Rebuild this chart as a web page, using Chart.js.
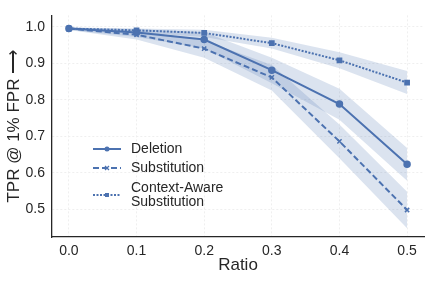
<!DOCTYPE html>
<html>
<head>
<meta charset="utf-8">
<script src="https://cdn.jsdelivr.net/npm/chart.js@4/dist/chart.umd.min.js"></script>
<style>
  html, body { margin: 0; padding: 0; background: #fff; }
  #wrap { width: 430px; height: 281px; position: relative; }
</style>
</head>
<body>
<div id="wrap"><canvas id="TPR"></canvas></div>
<script>
var ratios = [0.0, 0.1, 0.2, 0.3, 0.4, 0.5];
var xticks = [0.0, 0.1, 0.2, 0.3, 0.4, 0.5];
var yticks = [0.5, 0.6, 0.7, 0.8, 0.9, 1.0];

var deletion = [0.995, 0.984, 0.965, 0.881, 0.788, 0.623];
var delLow = [0.991, 0.972, 0.940, 0.845, 0.745, 0.578];
var delHigh = [0.998, 0.994, 0.985, 0.915, 0.830, 0.668];

var substitution = [0.995, 0.978, 0.940, 0.861, 0.686, 0.498];
var subLow = [0.991, 0.965, 0.915, 0.825, 0.640, 0.448];
var subHigh = [0.998, 0.990, 0.962, 0.895, 0.732, 0.548];

var contextAware = [0.995, 0.990, 0.983, 0.955, 0.908, 0.847];
var casLow = [0.992, 0.984, 0.972, 0.940, 0.886, 0.816];
var casHigh = [0.998, 0.995, 0.992, 0.970, 0.930, 0.879];

var labels = ["Deletion", "Substitution", ["Context-Aware", "Substitution"]];

var blue = "#4C72B0";
var band = "rgba(76,114,176,0.2)";
var font = "'Liberation Sans', Arial, sans-serif";

function pts(v) {
    var out = [];
    for (i = 0; i < ratios.length; i++) {
        out.push({ x: ratios[i], y: v[i] });
    }
    return out;
}

function lineSet(name, v, dash, style, rad) {
    return {
        label: name, data: pts(v), borderColor: blue, backgroundColor: blue,
        borderWidth: 2, borderDash: dash, pointStyle: style, pointRadius: rad,
        pointBorderColor: blue, pointBackgroundColor: blue, pointBorderWidth: 1.5,
        fill: false, order: 0, tension: 0
    };
}

function bandSet(v, fill) {
    return {
        label: '', data: pts(v), borderWidth: 0, pointRadius: 0,
        backgroundColor: band, borderColor: 'rgba(0,0,0,0)', fill: fill, order: 1
    };
}

var legendStyles = [
    { dash: [], style: 'circle' },
    { dash: [6, 3], style: 'crossRot' },
    { dash: [2, 1.5], style: 'rect' }
];

// legend drawn by hand so the two-line label sits like the original
var legendPlugin = {
    id: 'ownLegend',
    afterDraw: function (chart) {
        var ctx = chart.ctx;
        var ys = [149, 168, 195];
        ctx.save();
        for (i = 0; i < labels.length; i++) {
            var y = ys[i];
            var s = legendStyles[i];
            ctx.strokeStyle = blue;
            ctx.lineWidth = 2;
            ctx.setLineDash(s.dash);
            ctx.beginPath();
            ctx.moveTo(93, y);
            ctx.lineTo(121, y);
            ctx.stroke();
            ctx.setLineDash([]);
            ctx.fillStyle = blue;
            if (s.style == 'circle') {
                ctx.beginPath(); ctx.arc(107, y, 2.5, 0, Math.PI * 2); ctx.fill();
            } else if (s.style == 'rect') {
                ctx.fillRect(105, y - 2, 4, 4);
            } else {
                ctx.lineWidth = 1.3;
                ctx.beginPath();
                ctx.moveTo(105, y - 2); ctx.lineTo(109, y + 2);
                ctx.moveTo(109, y - 2); ctx.lineTo(105, y + 2);
                ctx.stroke();
            }
            ctx.fillStyle = '#262626';
            ctx.font = "14px " + font;
            ctx.textBaseline = 'middle';
            ctx.textAlign = 'left';
            var t = labels[i];
            if (Array.isArray(t)) {
                ctx.fillText(t[0], 131, y - 7);
                ctx.fillText(t[1], 131, y + 7);
            } else {
                ctx.fillText(t, 131, y);
            }
        }
        ctx.restore();
    }
};

var ctx = document.getElementById('TPR').getContext('2d');
var myChart = new Chart(ctx, {
    type: 'line',
    data: {
        datasets: [
            lineSet("Deletion", deletion, [], 'circle', 3),
            lineSet("Substitution", substitution, [6, 3], 'crossRot', 3),
            lineSet("Context-Aware Substitution", contextAware, [2, 1.5], 'rect', 3),
            bandSet(delLow, false),
            bandSet(delHigh, '-1'),
            bandSet(subLow, false),
            bandSet(subHigh, '-1'),
            bandSet(casLow, false),
            bandSet(casHigh, '-1')
        ]
    },
    options: {
        responsive: true,
        maintainAspectRatio: false,
        animation: false,
        layout: { padding: { left: 0, right: 6, top: 5, bottom: 0 } },
        plugins: { legend: { display: false }, tooltip: { enabled: false } },
        scales: {
            x: {
                type: 'linear', min: -0.025, max: 0.525,
                afterBuildTicks: function (s) { s.ticks = xticks.map(function (v) { return { value: v }; }); },
                afterFit: function (s) { s.height = 44; },
                ticks: {
                    color: '#262626', padding: 6, font: { size: 14, family: font },
                    callback: function (v) { return v.toFixed(1); }
                },
                grid: { color: '#efefef', drawTicks: false, lineWidth: 1 },
                border: { display: true, color: '#262626', width: 1.3, dash: [2, 2] },
                title: { display: true, text: 'Ratio', color: '#262626', font: { size: 17, family: font }, padding: { top: 0, bottom: 5 } }
            },
            y: {
                min: 0.424, max: 1.031,
                afterBuildTicks: function (s) { s.ticks = yticks.map(function (v) { return { value: v }; }); },
                afterFit: function (s) { s.width = 52; },
                ticks: {
                    color: '#262626', padding: 7, font: { size: 14, family: font },
                    callback: function (v) { return v.toFixed(1); }
                },
                grid: { color: '#efefef', drawTicks: false, lineWidth: 1 },
                border: { display: true, color: '#262626', width: 1.3, dash: [2, 2] },
                title: { display: true, text: 'TPR @ 1% FPR \u27F6', color: '#262626', font: { size: 17, family: font }, padding: { top: 4, bottom: 0 } }
            }
        }
    },
    plugins: [legendPlugin]
});
</script>
</body>
</html>
